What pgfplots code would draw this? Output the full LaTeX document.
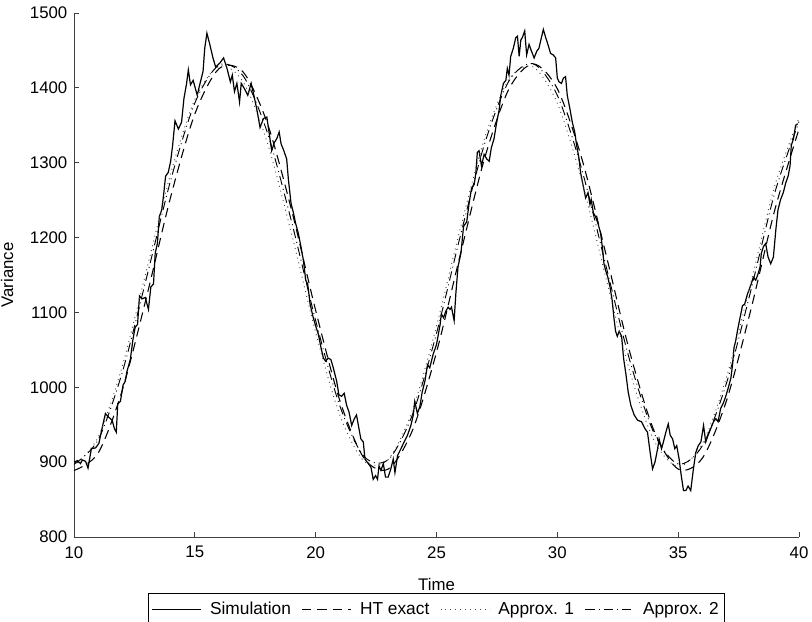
\documentclass[border=0pt]{standalone}
\usepackage{fontspec}
\setmainfont{Liberation Sans}
\usepackage{pgfplots}
\pgfplotsset{compat=1.18}

\begin{document}
\begin{tikzpicture}
\begin{axis}[
  scale only axis, width=543.75pt, height=393pt,
  xmin=10, xmax=40, ymin=800, ymax=1500,
  xtick={10,15,...,40}, ytick={800,900,...,1500},
  axis lines*=left, tick align=inside, major tick length=3.75pt,
  axis line style={black!75, line width=0.6pt},
  every tick/.style={black!75, line width=0.6pt},
  tick label style={font=\fontsize{12.6}{14}\selectfont},
  /pgf/number format/assume math mode=true,
  /pgf/number format/set thousands separator={},
  xticklabel style={yshift=-3.5pt},
  yticklabel style={xshift=-1.5pt},
  xlabel={Time}, ylabel={Variance},
  every axis x label/.style={at={(axis description cs:0.5,-0.0916)}, anchor=center,
    font=\fontsize{12.6}{14}\selectfont},
  every axis y label/.style={at={(axis description cs:-0.0924,0.5)}, anchor=center, rotate=90,
    font=\fontsize{12.6}{14}\selectfont},
  legend columns=4,
  legend style={at={(0.5,-0.1069)}, anchor=north, draw=black, line width=0.6pt,
    font=\fontsize{13}{15}\selectfont, inner xsep=2pt, inner ysep=4.5pt,
    /tikz/every odd column/.append style={column sep=4pt},
    /tikz/every even column/.append style={column sep=6pt}},
  legend image code/.code={\draw[#1] (0pt,0pt) -- (37pt,0pt);},
]
% simulation
\addplot[black, line width=0.9pt] table {
10.00 900
10.14 902
10.27 898
10.34 903
10.48 901
10.58 892
10.72 918
10.89 919
11.03 925
11.16 945
11.30 965
11.44 960
11.58 956
11.67 945
11.75 940
11.81 978
11.92 981
12.03 1003
12.12 1008
12.19 1021
12.33 1037
12.44 1064
12.53 1080
12.63 1084
12.71 1122
12.81 1118
12.95 1120
13.08 1104
13.18 1134
13.29 1138
13.36 1179
13.45 1192
13.53 1228
13.63 1237
13.70 1255
13.79 1282
13.90 1287
14.00 1302
14.08 1323
14.18 1356
14.32 1345
14.45 1354
14.55 1386
14.66 1406
14.73 1424
14.82 1404
14.93 1410
15.10 1390
15.20 1404
15.34 1422
15.41 1453
15.50 1473
15.62 1458
15.75 1440
15.86 1428
16.03 1433
16.19 1440
16.33 1426
16.47 1408
16.55 1417
16.64 1395
16.74 1406
16.85 1381
16.92 1406
17.05 1399
17.19 1390
17.33 1406
17.47 1386
17.56 1372
17.70 1347
17.84 1359
17.98 1361
18.11 1332
18.18 1316
18.29 1327
18.39 1332
18.49 1341
18.57 1325
18.66 1318
18.80 1305
18.87 1278
18.98 1246
19.08 1233
19.17 1219
19.28 1206
19.39 1188
19.49 1170
19.59 1143
19.67 1138
19.77 1111
19.90 1093
20.00 1082
20.11 1071
20.22 1053
20.32 1039
20.41 1035
20.52 1039
20.63 1037
20.73 1026
20.87 1008
20.96 990
21.07 988
21.18 992
21.28 976
21.38 967
21.49 949
21.60 958
21.69 963
21.79 945
21.87 931
21.97 927
22.04 904
22.18 898
22.29 893
22.38 877
22.48 882
22.56 877
22.62 895
22.70 889
22.80 898
22.89 880
23.00 880
23.11 891
23.21 904
23.28 886
23.39 909
23.53 918
23.66 927
23.80 936
23.94 949
24.04 963
24.10 981
24.21 965
24.31 974
24.41 994
24.52 1008
24.63 1030
24.72 1026
24.86 1044
25.00 1057
25.15 1084
25.20 1098
25.29 1093
25.39 1102
25.48 1107
25.56 1104
25.62 1107
25.73 1089
25.80 1125
25.89 1161
26.01 1179
26.12 1215
26.25 1221
26.35 1246
26.45 1266
26.56 1271
26.63 1287
26.69 1314
26.76 1316
26.86 1296
26.97 1311
27.08 1305
27.18 1302
27.27 1320
27.38 1332
27.49 1354
27.59 1370
27.66 1390
27.77 1406
27.87 1410
27.93 1426
28.00 1417
28.07 1442
28.18 1453
28.28 1467
28.35 1469
28.42 1442
28.49 1464
28.55 1467
28.65 1476
28.73 1444
28.83 1458
28.93 1449
29.04 1440
29.15 1449
29.24 1453
29.34 1467
29.42 1478
29.52 1467
29.61 1458
29.72 1446
29.83 1444
29.93 1440
30.00 1413
30.07 1408
30.17 1406
30.25 1413
30.34 1415
30.41 1390
30.52 1372
30.62 1354
30.72 1341
30.80 1323
30.90 1305
30.96 1287
31.07 1269
31.17 1253
31.27 1260
31.35 1244
31.40 1251
31.49 1233
31.58 1228
31.68 1219
31.79 1206
31.86 1188
31.93 1165
32.00 1156
32.09 1147
32.18 1134
32.27 1116
32.34 1093
32.41 1075
32.48 1068
32.56 1075
32.66 1068
32.74 1039
32.84 1017
32.93 994
33.04 976
33.18 963
33.32 956
33.48 954
33.62 945
33.73 940
33.84 913
33.94 891
34.04 900
34.15 918
34.21 931
34.31 918
34.39 927
34.49 940
34.59 951
34.67 936
34.77 931
34.86 918
34.94 922
35.04 904
35.11 886
35.22 862
35.32 862
35.41 868
35.52 862
35.63 891
35.73 913
35.83 922
35.94 927
36.05 949
36.14 927
36.24 936
36.35 945
36.46 954
36.56 958
36.65 954
36.76 972
36.87 979
36.97 988
37.07 999
37.18 1012
37.25 1030
37.31 1053
37.38 1062
37.45 1075
37.56 1093
37.66 1109
37.75 1111
37.87 1125
37.98 1134
38.11 1147
38.21 1143
38.31 1152
38.39 1161
38.44 1179
38.53 1188
38.62 1192
38.72 1174
38.83 1165
38.94 1174
39.04 1210
39.13 1237
39.24 1251
39.35 1260
39.45 1273
39.55 1282
39.63 1296
39.68 1323
39.77 1332
39.86 1350
39.95 1352
};
\addlegendentry{Simulation}
% HT exact
\addplot[black, line width=0.8pt, dash pattern=on 7pt off 4.5pt, smooth] table {
10 888.8
11 912.2
12 996.3
13 1120.5
14 1254.3
15 1365.1
16 1425.6
17 1421.1
18 1352.7
19 1237.1
20 1102.6
21 982.2
22 905.3
23 890.7
24 942.1
25 1046.8
26 1179.3
27 1307.0
28 1398.7
29 1432.0
30 1398.7
31 1306.9
32 1179.2
33 1046.7
34 942.0
35 890.7
36 905.3
37 982.2
38 1102.7
39 1237.2
40 1345.0
};
\addlegendentry{HT exact}
% Approx. 1
\addplot[black!70, line width=0.7pt, dash pattern=on 0.7pt off 3pt, smooth] table {
10 894.3
11 933.5
12 1028.6
13 1156.4
14 1285.6
15 1384.5
16 1428.9
17 1408.0
18 1326.8
19 1205.3
20 1073.2
21 962.8
22 901.3
23 903.5
24 969.0
25 1081.8
26 1214.2
27 1333.8
28 1411.4
29 1427.9
30 1379.3
31 1277.5
32 1147.4
33 1020.9
34 928.9
35 894.0
36 924.7
37 1013.5
38 1138.7
39 1269.5
40 1360.0
};
\addlegendentry{Approx. 1}
% Approx. 2
\addplot[black, line width=0.7pt, dash pattern=on 7pt off 3pt on 0.7pt off 3pt, smooth] table {
10 897.0
11 929.8
12 1020.2
13 1146.1
14 1276.5
15 1379.7
16 1430.3
17 1416.0
18 1340.2
19 1221.5
20 1089.0
21 975.1
22 907.7
23 903.3
24 963.0
25 1072.1
26 1204.0
27 1326.3
28 1409.2
29 1432.2
30 1389.9
31 1292.4
32 1163.8
33 1035.5
34 938.8
35 897.6
36 921.8
37 1005.6
38 1128.3
39 1260.1
40 1355.0
};
\addlegendentry{Approx. 2}
\end{axis}
\pgfresetboundingbox
\path[use as bounding box] ([xshift=-55.5pt,yshift=-63.75pt]current axis.south west)
  rectangle ([xshift=9.75pt,yshift=9.75pt]current axis.north east);
\end{tikzpicture}
\end{document}
